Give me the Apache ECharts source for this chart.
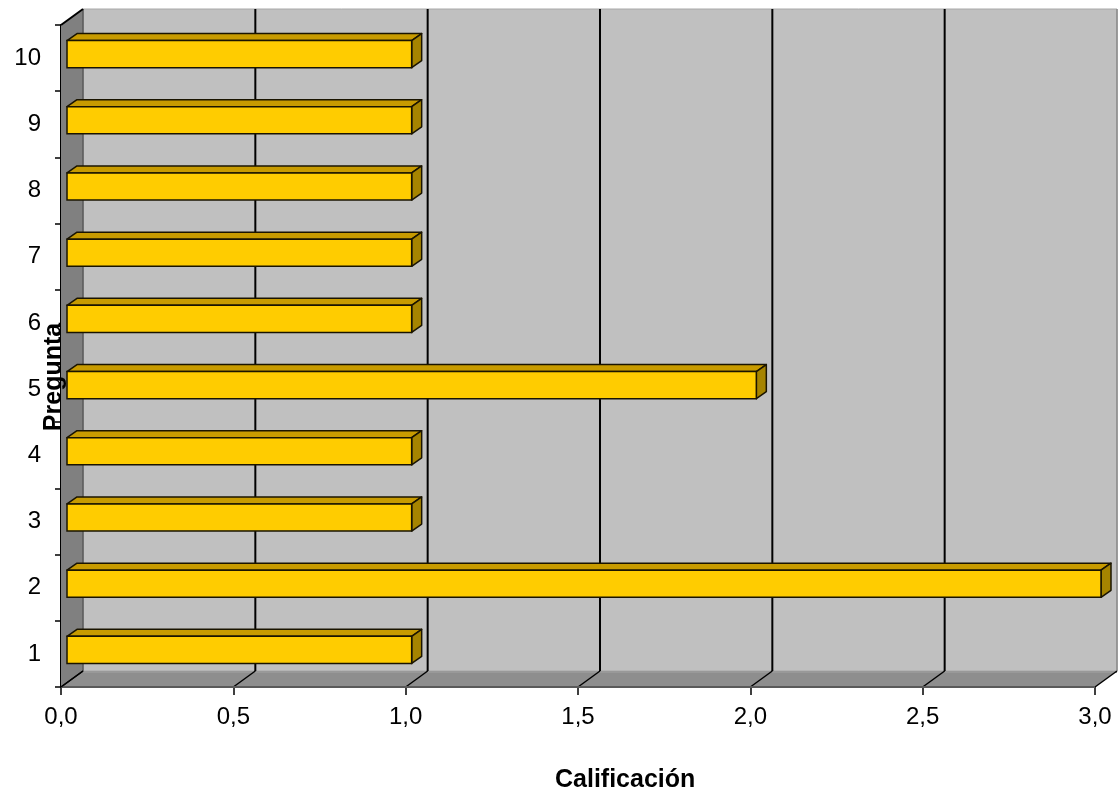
<!DOCTYPE html>
<html>
<head>
<meta charset="utf-8">
<script src="https://cdn.jsdelivr.net/npm/echarts@6/dist/echarts.min.js"></script>
<style>html,body{margin:0;padding:0;background:#fff}#c{width:1120px;height:794px}</style>
</head>
<body>
<div id="c"></div>
<script>
const categories = ['1','2','3','4','5','6','7','8','9','10'];
const values = [1, 3, 1, 1, 2, 1, 1, 1, 1, 1];
const xTicks = [0, 0.5, 1, 1.5, 2, 2.5, 3];
const xTitle = 'Calificación';
const yTitle = 'Pregunta';

const DX = 22, DY = -16;      // depth of the back wall
const BOX = 6, BOY = -4;      // bar front offset
const BDX = 10, BDY = -7;     // bar depth

const chart = echarts.init(document.getElementById('c'), null, {renderer: 'canvas'});

function wallsRender(params, api) {
  const cs = params.coordSys;
  const x0 = cs.x, x1 = cs.x + cs.width, y0 = cs.y, y1 = cs.y + cs.height;
  const ch = [];
  // back wall
  ch.push({type: 'polygon', shape: {points: [[x0+DX, y0+DY],[x1+DX, y0+DY],[x1+DX, y1+DY],[x0+DX, y1+DY]]},
    style: {fill: '#C0C0C0', stroke: '#A8A8A8', lineWidth: 1}});
  // left wall
  ch.push({type: 'polygon', shape: {points: [[x0, y0],[x0+DX, y0+DY],[x0+DX, y1+DY],[x0, y1]]},
    style: {fill: '#808080', stroke: null}});
  // floor
  ch.push({type: 'polygon', shape: {points: [[x0, y1],[x0+DX, y1+DY],[x1+DX, y1+DY],[x1, y1]]},
    style: {fill: '#8E8E8E', stroke: null}});
  ch.push({type: 'line', shape: {x1: x0+DX, y1: y1+DY+1, x2: x1+DX, y2: y1+DY+1}, style: {stroke: '#999999', lineWidth: 2}});
  // gridlines
  xTicks.forEach(function (t, i) {
    const px = api.coord([t, 0])[0];
    const col = i === 0 ? '#5a5a5a' : '#000';
    if (i > 0 && i < xTicks.length - 1) {
      ch.push({type: 'line', shape: {x1: px+DX, y1: y0+DY, x2: px+DX, y2: y1+DY}, style: {stroke: col, lineWidth: 2}});
    } else if (i === 0) {
      ch.push({type: 'line', shape: {x1: px+DX, y1: y0+DY, x2: px+DX, y2: y1+DY}, style: {stroke: col, lineWidth: 1.5}});
    } else {
      ch.push({type: 'line', shape: {x1: px+DX, y1: y0+DY, x2: px+DX, y2: y1+DY}, style: {stroke: '#8a8a8a', lineWidth: 1.5}});
    }
    ch.push({type: 'line', shape: {x1: px+DX, y1: y1+DY, x2: px, y2: y1}, style: {stroke: '#000', lineWidth: 1.5}});
  });
  // front floor edge
  ch.push({type: 'line', shape: {x1: x0, y1: y1, x2: x1, y2: y1}, style: {stroke: '#5a5a5a', lineWidth: 2}});
  // left wall top edge
  ch.push({type: 'line', shape: {x1: x0, y1: y0, x2: x0+DX, y2: y0+DY}, style: {stroke: '#000', lineWidth: 2}});
  ch.push({type: 'line', shape: {x1: x0, y1: y1, x2: x0+DX, y2: y1+DY}, style: {stroke: '#000', lineWidth: 1.5}});
  return {type: 'group', children: ch};
}

function barRender(params, api) {
  const v = api.value(0), c = api.value(1);
  const s = api.coord([0, c]);
  const e = api.coord([v, c]);
  const band = api.size([0, 1])[1];
  const h = band * 0.41;
  const xl = s[0] + BOX, xr = e[0] + BOX;
  const yt = s[1] + BOY - h / 2, yb = s[1] + BOY + h / 2;
  const stroke = '#1a1400';
  return {type: 'group', children: [
    {type: 'polygon', shape: {points: [[xl, yt],[xl+BDX, yt+BDY],[xr+BDX, yt+BDY],[xr, yt]]},
      style: {fill: '#C89B00', stroke: stroke, lineWidth: 1.5, lineJoin: 'round'}},
    {type: 'polygon', shape: {points: [[xr, yt],[xr+BDX, yt+BDY],[xr+BDX, yb+BDY],[xr, yb]]},
      style: {fill: '#A68400', stroke: stroke, lineWidth: 1.5, lineJoin: 'round'}},
    {type: 'rect', shape: {x: xl, y: yt, width: xr - xl, height: yb - yt},
      style: {fill: '#FFCC00', stroke: stroke, lineWidth: 1.5}}
  ]};
}

chart.setOption({
  animation: false,
  backgroundColor: '#ffffff',
  grid: {left: 61, right: 25, top: 25, bottom: 107, containLabel: false},
  title: {text: xTitle, left: 550, top: 763,
    textStyle: {fontFamily: 'Liberation Sans', fontWeight: 'bold', fontSize: 25, color: '#000'}},
  graphic: [{type: 'text', x: 54, y: 377, rotation: Math.PI / 2, z: 100,
    style: {text: yTitle, fontFamily: 'Liberation Sans', fontWeight: 'bold', fontSize: 25, fill: '#000',
      textAlign: 'center', textVerticalAlign: 'middle'}}],
  xAxis: {
    type: 'value', min: 0, max: 3, interval: 0.5,
    axisLine: {show: false},
    axisTick: {show: true, length: 8, lineStyle: {color: '#000', width: 1.5}},
    splitLine: {show: false},
    axisLabel: {margin: 18, color: '#000', fontFamily: 'Liberation Sans', fontSize: 24,
      formatter: function (v) { return v.toFixed(1).replace('.', ','); }}
  },
  yAxis: {
    type: 'category', data: categories, boundaryGap: true,
    axisLine: {show: true, lineStyle: {color: '#000', width: 2}},
    axisTick: {show: true, length: 6, lineStyle: {color: '#000', width: 1.5}},
    splitLine: {show: false},
    axisLabel: {margin: 20, color: '#000', fontFamily: 'Liberation Sans', fontSize: 24}
  },
  series: [
    {type: 'custom', name: 'walls', renderItem: wallsRender, data: [[0, 0]], z: 1, silent: true,
      encode: {x: 0, y: 1}},
    {type: 'custom', name: 'Calificación', renderItem: barRender, z: 5,
      data: values.map(function (v, i) { return [v, i]; }), encode: {x: 0, y: 1}}
  ]
});
</script>
</body>
</html>
